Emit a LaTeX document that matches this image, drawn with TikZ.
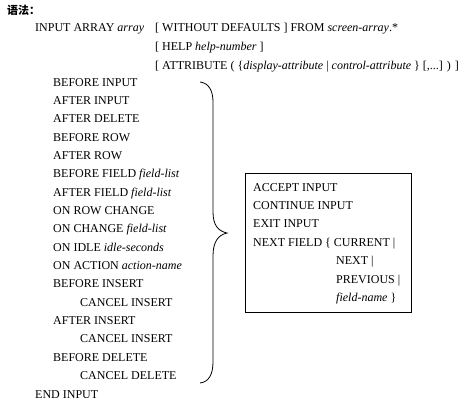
\documentclass[tikz,border=0pt]{standalone}
\usepackage{fontspec}
\setmainfont{Liberation Serif}
\newfontfamily\cjk{Noto Sans CJK SC}
\tikzset{
  kw/.style={anchor=base west, inner sep=0pt, font=\fontsize{12}{14}\selectfont},
  hdr/.style={kw, font=\cjk\bfseries\fontsize{11}{13}\selectfont},
}
\begin{document}
\begin{tikzpicture}[x=1pt,y=-1pt]
  \useasboundingbox (0,0) rectangle (466,405);
  \node[hdr] (yufa) at (7,14) {语法：};
  % header lines
  \node[kw] (inarr) at (35,31.7) {INPUT ARRAY \textit{array}};
  \node[kw] (wodef) at (155,31.7) {[ WITHOUT DEFAULTS ] FROM \textit{screen-array}.*};
  \node[kw] (help) at (155,50.7) {[ HELP \textit{help-number} ]};
  \node[kw] (attr) at (155,69.3) {[ ATTRIBUTE ( \{\textit{display-attribute} | \textit{control-attribute} \} [,...] ) ]};
  % control blocks
  \node[kw] (binput) at (53,86) {BEFORE INPUT};
  \node[kw] (ainput) at (53,104.35) {AFTER INPUT};
  \node[kw] (adel) at (53,122.7) {AFTER DELETE};
  \node[kw] (brow) at (53,141.05) {BEFORE ROW};
  \node[kw] (arow) at (53,159.4) {AFTER ROW};
  \node[kw] (bfield) at (53,177.75) {BEFORE FIELD \textit{field-list}};
  \node[kw] (afield) at (53,196.1) {AFTER FIELD \textit{field-list}};
  \node[kw] (rowchg) at (53,214.45) {ON ROW CHANGE};
  \node[kw] (onchg) at (53,232.8) {ON CHANGE \textit{field-list}};
  \node[kw] (idle) at (53,251.15) {ON IDLE \textit{idle-seconds}};
  \node[kw] (action) at (53,269.5) {ON ACTION \textit{action-name}};
  \node[kw] (bins) at (53,287.85) {BEFORE INSERT};
  \node[kw] (cins) at (80,306.2) {CANCEL INSERT};
  \node[kw] (ains) at (53,324.55) {AFTER INSERT};
  \node[kw] (cinsb) at (80,342.9) {CANCEL INSERT};
  \node[kw] (bdel) at (53,361.25) {BEFORE DELETE};
  \node[kw] (cdel) at (80,379.6) {CANCEL DELETE};
  \node[kw] (endin) at (35,398) {END INPUT};
  % brace
  \coordinate (brtop) at (200,82);
  \coordinate (brtip) at (227,233);
  \coordinate (brbot) at (200,383);
  \draw[line width=0.8pt] (brtop) .. controls (209,83) and (213,91) .. (213,102)
    -- (213,212) .. controls (213,225) and (218,231) .. (brtip)
    .. controls (218,235) and (213,242) .. (213,256)
    -- (213,362) .. controls (213,374) and (209,382) .. (brbot);
  % statements box
  \node[draw, line width=0.8pt, inner sep=0pt, minimum width=166pt, minimum height=139pt, anchor=north west] (cmdbox) at (245,173) {};
  \node[kw] (accept) at (253,191) {ACCEPT INPUT};
  \node[kw] (contin) at (253,209.4) {CONTINUE INPUT};
  \node[kw] (exitin) at (253,227.8) {EXIT INPUT};
  \node[kw] (nextf) at (253,246.2) {NEXT FIELD \{ CURRENT |};
  \node[kw] (nxt) at (336,264.6) {NEXT |};
  \node[kw] (prev) at (336,283) {PREVIOUS |};
  \node[kw] (fname) at (336,301.4) {\textit{field-name} \}};
\end{tikzpicture}
\end{document}
